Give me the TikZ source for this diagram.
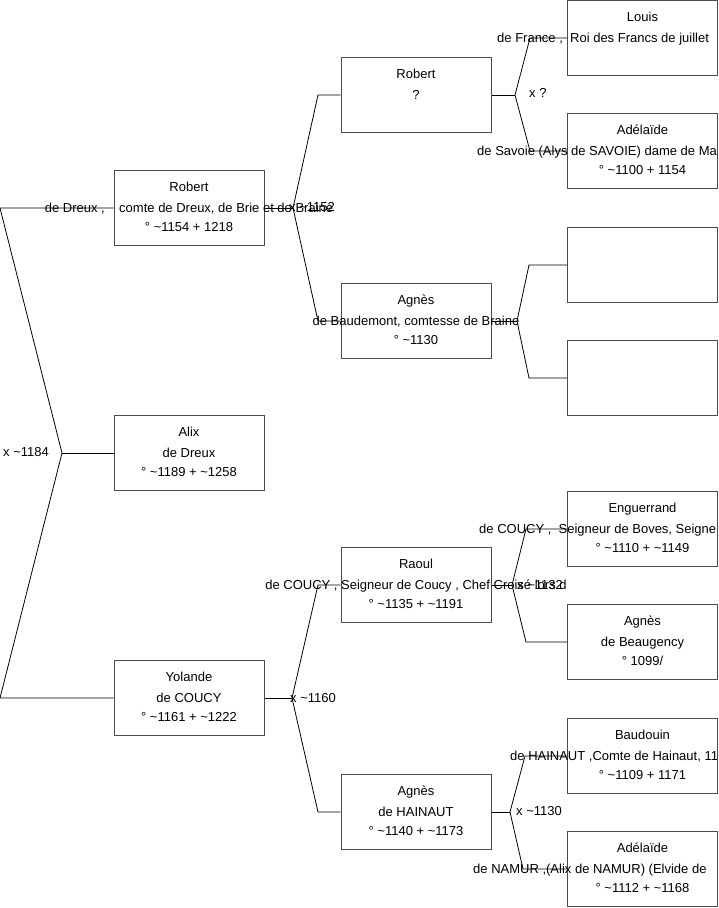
\documentclass[tikz,border=0pt]{standalone}
\usepackage{fontspec}
\setmainfont{Liberation Sans}
\usetikzlibrary{positioning}

\newcommand{\apx}{\textasciitilde}

\tikzset{
  person/.style={draw=black!70, line width=1pt, minimum width=150pt, minimum height=75pt, inner sep=0pt},
  txt/.style={font=\fontsize{13}{15}\selectfont, inner sep=0pt, anchor=base},
  firstline/.style={txt, yshift=17pt},
  midline/.style={txt, yshift=-4pt},
  lastline/.style={txt, yshift=-23pt},
  cutline/.style={font=\fontsize{13}{15}\selectfont, inner sep=0pt, anchor=base west},
  union/.style={font=\fontsize{13}{15}\selectfont, inner sep=0pt, anchor=west},
  link/.style={black, line width=0.8pt},
}

\begin{document}
\begin{tikzpicture}[x=1pt, y=-1pt]

  \useasboundingbox (0,0) rectangle (719,908);

  % Boxes: children
  \node[person] (rob) at (189,208) {};
  \node[person] (alix) at (189,453) {};
  \node[person] (yol) at (189,698) {};

  % Boxes: parents
  \node[person] (robp) at (416,95) {};
  \node[person] (agb) at (416,321) {};
  \node[person] (raoul) at (416,585) {};
  \node[person] (agh) at (416,812) {};

  % Boxes: grandparents
  \node[person] (louis) at (642.5,38) {};
  \node[person] (adsav) at (642.5,151) {};
  \node[person] (empa) at (642.5,265) {};
  \node[person] (empb) at (642.5,378) {};
  \node[person] (eng) at (642.5,529) {};
  \node[person] (agbeau) at (642.5,642) {};
  \node[person] (baud) at (642.5,756) {};
  \node[person] (adnam) at (642.5,869) {};

  % Bend points
  \coordinate (r0a) at (0,208);
  \coordinate (r0b) at (0,698);
  \coordinate (f0) at (62,453);
  \coordinate (f1) at (293,208);
  \coordinate (b1a) at (318,95);
  \coordinate (b1b) at (318,321);
  \coordinate (f2) at (292,698);
  \coordinate (b2a) at (318,585);
  \coordinate (b2b) at (318,812);
  \coordinate (f3) at (515,95);
  \coordinate (b3a) at (530,38);
  \coordinate (b3b) at (530,151);
  \coordinate (f4) at (517,321);
  \coordinate (b4a) at (529,265);
  \coordinate (b4b) at (529,378);
  \coordinate (f5) at (512,585);
  \coordinate (b5a) at (526,529);
  \coordinate (b5b) at (526,642);
  \coordinate (f6) at (510,812);
  \coordinate (b6a) at (525,756);
  \coordinate (b6b) at (523,869);

  % Connectors
  \draw[link] (rob.west) -- (r0a) -- (f0) -- (r0b) -- (yol.west);
  \draw[link] (f0) -- (alix.west);
  \draw[link] (rob.east) -- (f1);
  \draw[link] (robp.west) -- (b1a) -- (f1) -- (b1b) -- (agb.west);
  \draw[link] (yol.east) -- (f2);
  \draw[link] (raoul.west) -- (b2a) -- (f2) -- (b2b) -- (agh.west);
  \draw[link] (robp.east) -- (f3);
  \draw[link] (louis.west) -- (b3a) -- (f3) -- (b3b) -- (adsav.west);
  \draw[link] (agb.east) -- (f4);
  \draw[link] (empa.west) -- (b4a) -- (f4) -- (b4b) -- (empb.west);
  \draw[link] (raoul.east) -- (f5);
  \draw[link] (eng.west) -- (b5a) -- (f5) -- (b5b) -- (agbeau.west);
  \draw[link] (agh.east) -- (f6);
  \draw[link] (baud.west) -- (b6a) -- (f6) -- (b6b) -- (adnam.west);

  % Marriages
  \node[union] (m0) at (3,452) {x \apx1184};
  \node[union] (m1) at (289,207) {x \apx1152};
  \node[union] (m2) at (290,698) {x \apx1160};
  \node[union] (m3) at (529,93) {x ?};
  \node[union] (m5) at (517,585) {x \apx1132};
  \node[union] (m6) at (516,811) {x \apx1130};

  % Texts
  \node[firstline] (rob-a) at (rob.center) {Robert};
  \node[midline] (rob-b) at (rob.center) {de Dreux ,\ \ \ \ comte de Dreux, de Brie et de Braine};
  \node[lastline] (rob-c) at (rob.center) {° \apx1154 + 1218};

  \node[firstline] (alix-a) at (alix.center) {Alix};
  \node[midline] (alix-b) at (alix.center) {de Dreux};
  \node[lastline] (alix-c) at (alix.center) {° \apx1189 + \apx1258};

  \node[firstline] (yol-a) at (yol.center) {Yolande};
  \node[midline] (yol-b) at (yol.center) {de COUCY};
  \node[lastline] (yol-c) at (yol.center) {° \apx1161 + \apx1222};

  \node[firstline] (robp-a) at (robp.center) {Robert};
  \node[midline] (robp-b) at (robp.center) {?};

  \node[firstline] (agb-a) at (agb.center) {Agnès};
  \node[midline] (agb-b) at (agb.center) {de Baudemont, comtesse de Braine};
  \node[lastline] (agb-c) at (agb.center) {° \apx1130};

  \node[firstline] (raoul-a) at (raoul.center) {Raoul};
  \node[midline] (raoul-b) at (raoul.center) {de COUCY , Seigneur de Coucy , Chef Croisé lors d};
  \node[lastline] (raoul-c) at (raoul.center) {° \apx1135 + \apx1191};

  \node[firstline] (agh-a) at (agh.center) {Agnès};
  \node[midline] (agh-b) at (agh.center) {de HAINAUT};
  \node[lastline] (agh-c) at (agh.center) {° \apx1140 + \apx1173};

  \node[firstline] (louis-a) at (louis.center) {Louis};
  \node[cutline] (louis-b) at (497,42) {de France ,\ \ Roi des Francs de juillet};

  \node[firstline] (adsav-a) at (adsav.center) {Adélaïde};
  \node[cutline] (adsav-b) at (477,155) {de Savoie (Alys de SAVOIE) dame de Ma};
  \node[lastline] (adsav-c) at (adsav.center) {° \apx1100 + 1154};

  \node[firstline] (eng-a) at (eng.center) {Enguerrand};
  \node[cutline] (eng-b) at (479,533) {de COUCY ,\ \ Seigneur de Boves, Seigne};
  \node[lastline] (eng-c) at (eng.center) {° \apx1110 + \apx1149};

  \node[firstline] (agbeau-a) at (agbeau.center) {Agnès};
  \node[midline] (agbeau-b) at (agbeau.center) {de Beaugency};
  \node[lastline] (agbeau-c) at (agbeau.center) {° 1099/};

  \node[firstline] (baud-a) at (baud.center) {Baudouin};
  \node[cutline] (baud-b) at (510,760) {de HAINAUT ,Comte de Hainaut, 11};
  \node[lastline] (baud-c) at (baud.center) {° \apx1109 + 1171};

  \node[firstline] (adnam-a) at (adnam.center) {Adélaïde};
  \node[cutline] (adnam-b) at (473,873) {de NAMUR ,(Alix de NAMUR) (Elvide de};
  \node[lastline] (adnam-c) at (adnam.center) {° \apx1112 + \apx1168};

\end{tikzpicture}
\end{document}
